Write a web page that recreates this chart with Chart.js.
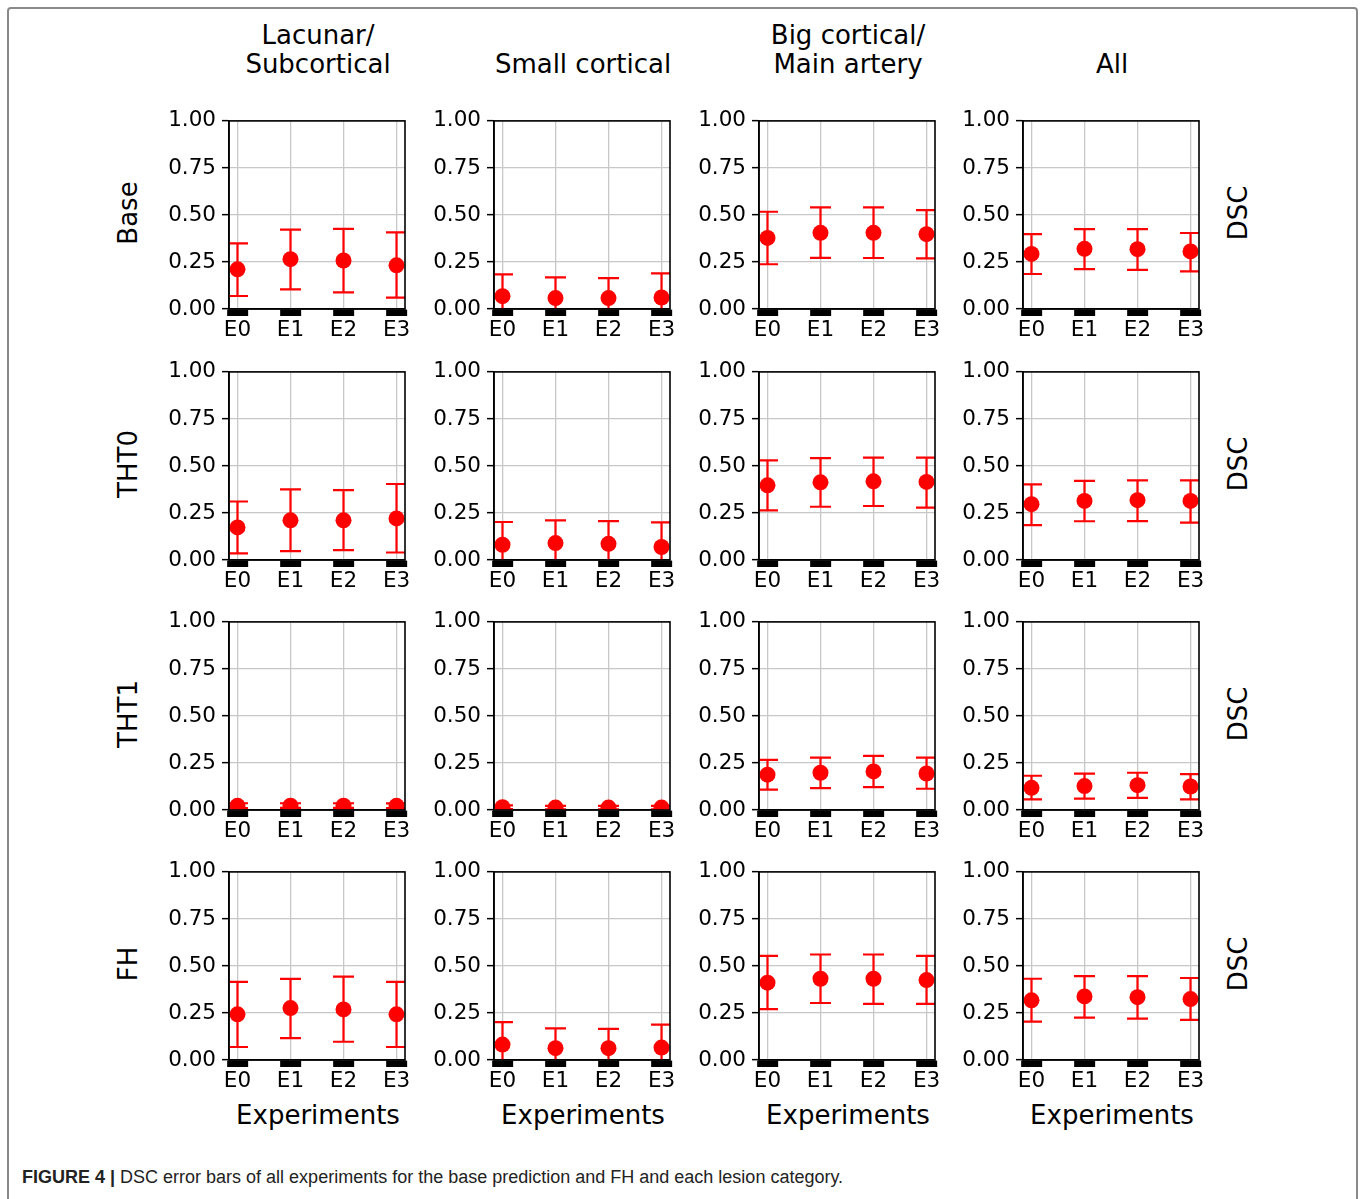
<!DOCTYPE html>
<html>
<head>
<meta charset="utf-8">
<script src="https://cdn.jsdelivr.net/npm/chart.js@4.4.0/dist/chart.umd.min.js"></script>
<style>
  body { margin: 0; background: #fff; width: 1363px; height: 1199px; overflow: hidden; position: relative; font-family: "DejaVu Sans", sans-serif; color: #000; }
  .frame { position: absolute; left: 7px; top: 7px; width: 1347px; height: 1230px; border: 2px solid #8a8a8a; border-radius: 4px; }
  .panel { position: absolute; }
  .lbl { position: absolute; font-size: 26px; line-height: 29px; text-align: center; white-space: nowrap; }
  .rot { transform: translate(-50%, -50%) rotate(-90deg); }
  .caption { position: absolute; left: 22px; top: 1167px; font-family: "Liberation Sans Narrow", "Liberation Sans", sans-serif; font-size: 18px; color: #222; white-space: nowrap; }
</style>
</head>
<body>
<div class="frame"></div>
<div class="caption"><b>FIGURE 4 |</b> DSC error bars of all experiments for the base prediction and FH and each lesion category.</div>
<script>
/* DSC error bars: 4 methods (rows) x 4 lesion categories (columns) */

const experiments = ['E0', 'E1', 'E2', 'E3'];
const categories = [['Lacunar/', 'Subcortical'], ['Small cortical'], ['Big cortical/', 'Main artery'], ['All']];
const methods = ['Base', 'THT0', 'THT1', 'FH'];
const yTicks = [0, 0.25, 0.5, 0.75, 1];

// per method: one row of 4 values per category (E0..E3)
const baseMean = [[0.211, 0.265, 0.258, 0.232], [0.068, 0.058, 0.058, 0.061], [0.378, 0.405, 0.405, 0.398], [0.293, 0.320, 0.318, 0.306]];
const baseLow  = [[0.069, 0.104, 0.088, 0.061], [-0.05, -0.05, -0.05, -0.07], [0.238, 0.272, 0.271, 0.269], [0.186, 0.212, 0.208, 0.200]];
const baseHigh = [[0.349, 0.422, 0.426, 0.407], [0.184, 0.168, 0.164, 0.189], [0.517, 0.540, 0.540, 0.526], [0.398, 0.425, 0.425, 0.404]];

const tht0Mean = [[0.173, 0.211, 0.211, 0.221], [0.081, 0.090, 0.086, 0.069], [0.397, 0.413, 0.418, 0.415], [0.297, 0.314, 0.318, 0.314]];
const tht0Low  = [[0.035, 0.047, 0.052, 0.040], [-0.04, -0.03, -0.035, -0.06], [0.264, 0.283, 0.287, 0.278], [0.185, 0.206, 0.207, 0.199]];
const tht0High = [[0.311, 0.375, 0.371, 0.404], [0.202, 0.211, 0.207, 0.200], [0.530, 0.542, 0.544, 0.544], [0.402, 0.421, 0.423, 0.423]];

const tht1Mean = [[0.022, 0.023, 0.023, 0.022], [0.015, 0.013, 0.013, 0.013], [0.188, 0.198, 0.205, 0.194], [0.118, 0.127, 0.132, 0.125]];
const tht1Low  = [[0.010, 0.011, 0.011, 0.010], [0.005, 0.004, 0.004, 0.004], [0.108, 0.116, 0.122, 0.113], [0.056, 0.061, 0.064, 0.057]];
const tht1High = [[0.036, 0.036, 0.036, 0.035], [0.025, 0.022, 0.022, 0.022], [0.266, 0.278, 0.288, 0.278], [0.182, 0.193, 0.198, 0.191]];

const fhMean = [[0.243, 0.276, 0.269, 0.243], [0.082, 0.063, 0.063, 0.066], [0.411, 0.432, 0.432, 0.425], [0.317, 0.338, 0.334, 0.324]];
const fhLow  = [[0.069, 0.116, 0.097, 0.069], [-0.04, -0.04, -0.04, -0.055], [0.270, 0.303, 0.298, 0.298], [0.204, 0.225, 0.220, 0.213]];
const fhHigh = [[0.415, 0.431, 0.443, 0.415], [0.201, 0.168, 0.165, 0.188], [0.554, 0.561, 0.561, 0.554], [0.432, 0.446, 0.446, 0.436]];

const rows = [
    { mean: baseMean, low: baseLow, high: baseHigh },
    { mean: tht0Mean, low: tht0Low, high: tht0High },
    { mean: tht1Mean, low: tht1Low, high: tht1High },
    { mean: fhMean, low: fhLow, high: fhHigh },
];

// layout of plot areas (page pixels)
const plotLeft = [229, 494, 759, 1023];
const plotTop = [116, 367, 617, 867];
const plotW = 178, plotH = 193;
const padL = 76, padT = 14, padB = 44, padR = 6;

const RED = '#ff0000';
const FONT = '"DejaVu Sans", sans-serif';

const errorBars = {
    id: 'errorBars',
    beforeDatasetsDraw(chart) {
        const { ctx, chartArea: a, scales: { x, y } } = chart;
        ctx.save();
        ctx.beginPath();
        ctx.rect(a.left, a.top, a.right - a.left, a.bottom - a.top);
        ctx.clip();
        ctx.strokeStyle = RED;
        ctx.lineWidth = 2.2;
        chart.data.datasets.forEach(ds => ds.data.forEach(p => {
            const px = x.getPixelForValue(p.x);
            const yl = y.getPixelForValue(p.lo);
            const yh = y.getPixelForValue(p.hi);
            ctx.beginPath();
            ctx.moveTo(px, yl); ctx.lineTo(px, yh);
            ctx.moveTo(px - 10.5, yl); ctx.lineTo(px + 10.5, yl);
            ctx.moveTo(px - 10.5, yh); ctx.lineTo(px + 10.5, yh);
            ctx.stroke();
        }));
        ctx.restore();
    },
};

const boxFrame = {
    id: 'boxFrame',
    afterDraw(chart) {
        const { ctx, chartArea: a } = chart;
        ctx.save();
        ctx.strokeStyle = '#000';
        ctx.lineWidth = 1.6;
        ctx.strokeRect(a.left, a.top, a.right - a.left, a.bottom - a.top);
        ctx.restore();
    },
};

function addLabel(text, left, top, cls) {
    const d = document.createElement('div');
    d.className = 'lbl' + (cls ? ' ' + cls : '');
    d.innerHTML = text;
    d.style.left = left + 'px';
    d.style.top = top + 'px';
    document.body.appendChild(d);
    return d;
}

// column titles, x titles
categories.forEach((lines, c) => {
    const cx = plotLeft[c] + plotW / 2;
    const d = addLabel(lines.join('<br>'), cx - 140, 79 - 29 * lines.length);
    d.style.width = '280px';
    const e = addLabel('Experiments', cx - 140, 1101);
    e.style.width = '280px';
});

// row labels and right-side DSC labels
methods.forEach((m, r) => {
    const cy = plotTop[r] + plotH / 2;
    addLabel(m, 128, cy, 'rot');
    addLabel('DSC', 1238, cy, 'rot');
});

rows.forEach((row, r) => {
    categories.forEach((cat, c) => {
        const canvas = document.createElement('canvas');
        const w = padL + plotW + padR, h = padT + plotH + padB;
        const wrap = document.createElement('div');
        wrap.className = 'panel';
        wrap.style.left = (plotLeft[c] - padL) + 'px';
        wrap.style.top = (plotTop[r] - padT) + 'px';
        wrap.style.width = w + 'px';
        wrap.style.height = h + 'px';
        wrap.appendChild(canvas);
        document.body.appendChild(wrap);

        const pts = experiments.map((e, i) => ({
            x: i, y: row.mean[c][i], lo: row.low[c][i], hi: row.high[c][i],
        }));

        new Chart(canvas, {
            type: 'scatter',
            data: {
                datasets: [{
                    label: methods[r] + ' ' + cat.join(' '),
                    data: pts,
                    backgroundColor: RED,
                    borderColor: RED,
                    pointRadius: 8,
                    pointHoverRadius: 8,
                    borderWidth: 0,
                    clip: 0,
                }],
            },
            options: {
                responsive: true,
                maintainAspectRatio: false,
                animation: false,
                layout: { padding: { left: 0, top: padT, right: padR, bottom: 0 } },
                plugins: { legend: { display: false }, tooltip: { enabled: false } },
                scales: {
                    x: {
                        type: 'linear',
                        min: -0.16,
                        max: 3.16,
                        afterFit: s => { s.height = padB; },
                        afterBuildTicks: s => { s.ticks = experiments.map((e, i) => ({ value: i })); },
                        ticks: {
                            color: '#000',
                            font: { family: FONT, size: 21.5 },
                            padding: 2,
                            maxRotation: 0,
                            autoSkip: false,
                            callback: v => experiments[v],
                        },
                        grid: {
                            color: '#c8c8c8',
                            lineWidth: 1.3,
                            tickColor: '#000',
                            tickWidth: 21,
                            tickLength: 7,
                        },
                        border: { color: '#000', width: 1.6 },
                    },
                    y: {
                        min: 0,
                        max: 1,
                        afterFit: s => { s.width = padL; },
                        afterBuildTicks: s => { s.ticks = yTicks.map(v => ({ value: v })); },
                        ticks: {
                            color: '#000',
                            font: { family: FONT, size: 21.5 },
                            padding: 6,
                            callback: v => v.toFixed(2),
                        },
                        grid: {
                            color: '#c8c8c8',
                            lineWidth: 1.3,
                            tickColor: '#000',
                            tickWidth: 1.5,
                            tickLength: 7,
                        },
                        border: { color: '#000', width: 1.6 },
                    },
                },
            },
            plugins: [errorBars, boxFrame],
        });
    });
});
</script>
</body>
</html>
